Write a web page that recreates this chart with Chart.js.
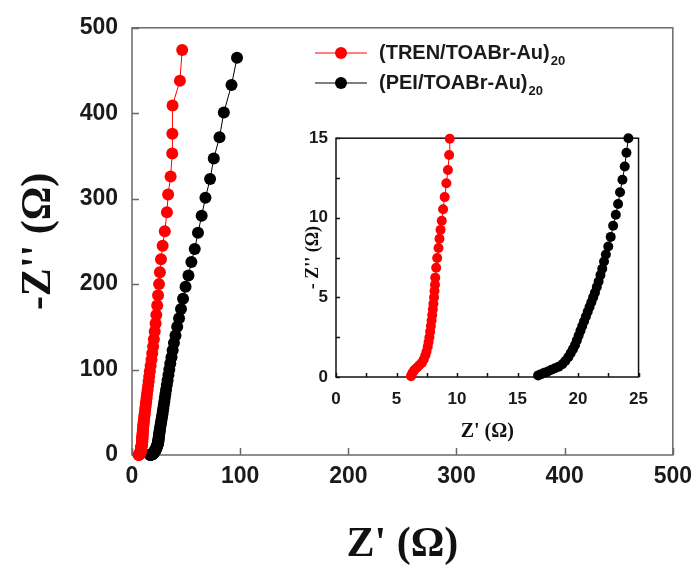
<!DOCTYPE html>
<html>
<head>
<meta charset="utf-8">
<script src="https://cdn.jsdelivr.net/npm/chart.js@4/dist/chart.umd.min.js"></script>
<style>
  html, body { margin: 0; padding: 0; background: #fff; }
  #wrap { position: relative; width: 700px; height: 574px; }
  #main { position: absolute; left: 0; top: 0; }
  #inset { position: absolute; left: 290px; top: 120px; }
</style>
</head>
<body>
<div id="wrap">
  <canvas id="main" width="700" height="574"></canvas>
  <canvas id="inset" width="370" height="330"></canvas>
</div>
<script>
// Nyquist data, Z' (real) and -Z'' (imaginary) in ohm, ordered from high to low frequency
const trenLabel = '(TREN/TOABr-Au)';
const peiLabel = '(PEI/TOABr-Au)';
const layerSub = '20';

const trenRe = [6.2, 6.25, 6.35, 6.5, 6.7, 6.9, 7.1, 7.25, 7.38, 7.48,
  7.58, 7.65, 7.72, 7.78, 7.84, 7.9, 7.95, 8.0, 8.05, 8.1,
  8.14, 8.18, 8.2, 8.28, 8.36, 8.47, 8.55, 8.64, 8.74, 8.85,
  8.98, 9.12, 9.25, 9.35, 9.4,
  9.44, 9.47, 9.5, 9.55, 9.6, 9.65, 9.7, 9.8, 9.9, 10.0,
  10.1, 10.25, 10.4, 10.6, 10.8, 11.0, 11.25, 11.5, 11.8, 12.1,
  12.4, 12.8, 13.1, 13.5, 13.9, 14.4, 14.9, 15.4, 15.9, 16.5,
  17.2, 18.0, 18.7, 19.5, 20.2, 21.0, 21.8, 22.5, 23.3, 24.1,
  25.0, 25.8, 26.8, 28.3, 30.3, 32.3, 33.4, 35.7, 37.2, 37.3,
  37.5, 44.3, 46.4];
const trenIm = [0.05, 0.15, 0.3, 0.45, 0.6, 0.75, 0.9, 1.1, 1.35, 1.6,
  1.9, 2.2, 2.5, 2.85, 3.2, 3.55, 3.9, 4.25, 4.6, 5.0,
  5.4, 5.8, 6.24, 6.86, 7.48, 8.1, 8.68, 9.24, 9.82, 10.54,
  11.3, 12.17, 13.0, 13.95, 14.96,
  16, 17, 18.1, 19.3, 20.5, 21.8, 23.2, 24.7, 26.3, 28,
  29.8, 31.7, 33.7, 35.9, 38.2, 40.6, 43.2, 46, 49, 52.2,
  55.6, 59.2, 63, 67, 71.3, 76, 81, 86.3, 92, 98,
  104.5, 111.5, 119, 127, 135.5, 144.5, 154, 164, 175, 187,
  200, 214, 229, 245, 262, 284, 305, 326, 353, 376,
  409, 438, 474];

const peiRe = [16.7, 16.95, 17.2, 17.5, 17.8, 18.1, 18.4, 18.7, 18.95, 19.2,
  19.4, 19.58, 19.75, 19.9, 20.05, 20.2, 20.35, 20.5, 20.65, 20.8,
  20.95, 21.1, 21.25, 21.4, 21.55, 21.7, 21.85, 22.0, 22.15, 22.3,
  22.5, 22.7, 22.9, 23.12, 23.31, 23.47, 23.67, 23.86, 24.0, 24.16,
  24.3, 24.4, 24.5, 24.65, 24.8, 24.9, 25.1, 25.3, 25.5, 25.8,
  26.0, 26.3, 26.6, 27.0, 27.3, 27.7, 28.1, 28.5, 28.9, 29.4,
  29.9, 30.4, 30.9, 31.5, 32.2, 32.9, 33.7, 34.5, 35.4, 36.5,
  37.6, 38.8, 40.2, 41.8, 43.5, 45.3, 47.2, 49.5, 52.2, 54.9,
  58.0, 61.0, 64.4, 67.9, 72.2, 75.6, 80.9, 84.9, 92.0, 97.1];
const peiIm = [0.1, 0.18, 0.26, 0.35, 0.45, 0.55, 0.65, 0.8, 1.0, 1.25,
  1.5, 1.75, 2.0, 2.3, 2.6, 2.9, 3.2, 3.5, 3.8, 4.1,
  4.4, 4.7, 5.0, 5.3, 5.65, 6.0, 6.4, 6.8, 7.25, 7.7,
  8.2, 8.8, 9.5, 10.19, 10.87, 11.6, 12.39, 13.22, 14.09, 15.0,
  15.9, 17, 18.3, 19.6, 21, 22.4, 24, 25.7, 27.5, 29.5,
  31.5, 33.8, 36.2, 38.8, 41.5, 44.5, 47.5, 51, 54.5, 58.5,
  62.5, 67, 71.5, 76.5, 82, 87.5, 93.5, 100, 107, 114.5,
  122.5, 131, 140, 150, 160, 171, 183, 197, 210, 226,
  241, 260, 280, 301, 323, 347, 372, 401, 433, 465];

const mainTicks = [0, 100, 200, 300, 400, 500];

const toPoints = (re, im) => re.map((v, i) => ({ x: v, y: im[i] }));

// frame box and inward tick marks
const frameTicks = {
  id: 'frameTicks',
  beforeDatasetsDraw(chart, args, opts) {
    const { ctx, chartArea: a, scales: { x, y } } = chart;
    ctx.save();
    ctx.strokeStyle = opts.color;
    ctx.lineWidth = opts.width;
    ctx.strokeRect(a.left, a.top, a.right - a.left, a.bottom - a.top);
    ctx.beginPath();
    x.ticks.forEach(t => {
      const px = Math.round(x.getPixelForValue(t.value)) + 0.5;
      ctx.moveTo(px, a.bottom);
      ctx.lineTo(px, a.bottom - opts.len);
    });
    y.ticks.forEach(t => {
      const py = Math.round(y.getPixelForValue(t.value)) + 0.5;
      ctx.moveTo(a.left, py);
      ctx.lineTo(a.left + opts.len, py);
    });
    ctx.stroke();
    ctx.restore();
  }
};

// legend with subscripted layer count
const subLegend = {
  id: 'subLegend',
  afterDraw(chart) {
    const ctx = chart.ctx;
    chart.data.datasets.forEach((ds, i) => {
      const y = 53 + i * 30;
      ctx.save();
      ctx.strokeStyle = ds.borderColor;
      ctx.lineWidth = 1;
      ctx.beginPath();
      ctx.moveTo(315, y);
      ctx.lineTo(367, y);
      ctx.stroke();
      ctx.fillStyle = ds.pointBackgroundColor;
      ctx.beginPath();
      ctx.arc(341, y, 6, 0, Math.PI * 2);
      ctx.fill();
      ctx.fillStyle = '#1a1a1a';
      ctx.textBaseline = 'middle';
      ctx.font = 'bold 20px "Liberation Sans", Arial, sans-serif';
      ctx.fillText(ds.label, 379, y);
      const w = ctx.measureText(ds.label).width;
      ctx.font = 'bold 13px "Liberation Sans", Arial, sans-serif';
      ctx.fillText(layerSub, 379 + w + 1, y + 8);
      ctx.restore();
    });
  }
};

const sans = (size) => ({ family: '"Liberation Sans", Arial, sans-serif', size: size, weight: 'bold' });
const serif = (size) => ({ family: '"Liberation Serif", "Times New Roman", serif', size: size, weight: 'bold', lineHeight: 1 });

function series(label, color, pts, r) {
  return {
    label: label,
    data: pts,
    showLine: true,
    borderColor: color,
    borderWidth: 1,
    backgroundColor: color,
    pointBackgroundColor: color,
    pointBorderWidth: 0,
    pointRadius: r,
    clip: false
  };
}

new Chart(document.getElementById('main'), {
  type: 'scatter',
  data: {
    datasets: [
      series(trenLabel, '#ff0000', toPoints(trenRe, trenIm), 6),
      series(peiLabel, '#000000', toPoints(peiRe, peiIm), 6)
    ]
  },
  options: {
    responsive: false,
    animation: false,
    layout: { padding: { top: 23, right: 26, left: 0, bottom: 0 } },
    plugins: {
      legend: { display: false },
      tooltip: { enabled: false },
      frameTicks: { color: '#6a6a6a', width: 1.5, len: 7 }
    },
    scales: {
      x: {
        type: 'linear', min: 0, max: 500,
        afterBuildTicks: s => { s.ticks = mainTicks.map(v => ({ value: v })); },
        afterFit: s => { s.height = 119; },
        grid: { display: true, drawOnChartArea: false, drawTicks: false },
        border: { display: false },
        ticks: { font: sans(23), color: '#1a1a1a', padding: 8 },
        title: { display: true, text: "Z' (Ω)", font: serif(42), color: '#111', padding: { top: 0, bottom: 8 } }
      },
      y: {
        type: 'linear', min: 0, max: 500,
        afterBuildTicks: s => { s.ticks = mainTicks.map(v => ({ value: v })); },
        afterFit: s => { s.width = 132; },
        grid: { display: true, drawOnChartArea: false, drawTicks: false },
        border: { display: false },
        ticks: { font: sans(23), color: '#1a1a1a', padding: 14 },
        title: { display: true, text: "-Z'' (Ω)", font: serif(42), color: '#111', padding: { top: 18, bottom: 0 } }
      }
    }
  },
  plugins: [frameTicks, subLegend]
});

// inset: zoom on the high-frequency region
const insetMax = 15.05;
const inTren = toPoints(trenRe, trenIm).filter(p => p.y <= insetMax);
const inPei = toPoints(peiRe, peiIm).filter(p => p.y <= insetMax);
const everyFive = v => (v % 5 === 0 ? v : '');

new Chart(document.getElementById('inset'), {
  type: 'scatter',
  data: {
    datasets: [
      series(trenLabel, '#ff0000', inTren, 5),
      series(peiLabel, '#000000', inPei, 5)
    ]
  },
  options: {
    responsive: false,
    animation: false,
    layout: { padding: { top: 15, right: 17, left: 0, bottom: 0 } },
    plugins: {
      legend: { display: false },
      tooltip: { enabled: false },
      frameTicks: { color: '#111', width: 1.5, len: 4 }
    },
    scales: {
      x: {
        type: 'linear', min: 0, max: 25,
        afterFit: s => { s.height = 73; },
        grid: { display: true, drawOnChartArea: false, drawTicks: false },
        border: { display: false },
        ticks: { stepSize: 2.5, autoSkip: false, maxRotation: 0, callback: everyFive, font: sans(17), color: '#1a1a1a', padding: 12 },
        title: { display: true, text: "Z' (Ω)", font: serif(20), color: '#111', padding: { top: 0, bottom: 8 } }
      },
      y: {
        type: 'linear', min: 0, max: 15,
        afterFit: s => { s.width = 46; },
        grid: { display: true, drawOnChartArea: false, drawTicks: false },
        border: { display: false },
        ticks: { stepSize: 2.5, autoSkip: false, callback: everyFive, font: sans(17), color: '#1a1a1a', padding: 8 },
        title: { display: true, text: "- Z'' (Ω)", font: serif(18), color: '#111', padding: { top: 14, bottom: 0 } }
      }
    }
  },
  plugins: [frameTicks]
});
</script>
</body>
</html>
